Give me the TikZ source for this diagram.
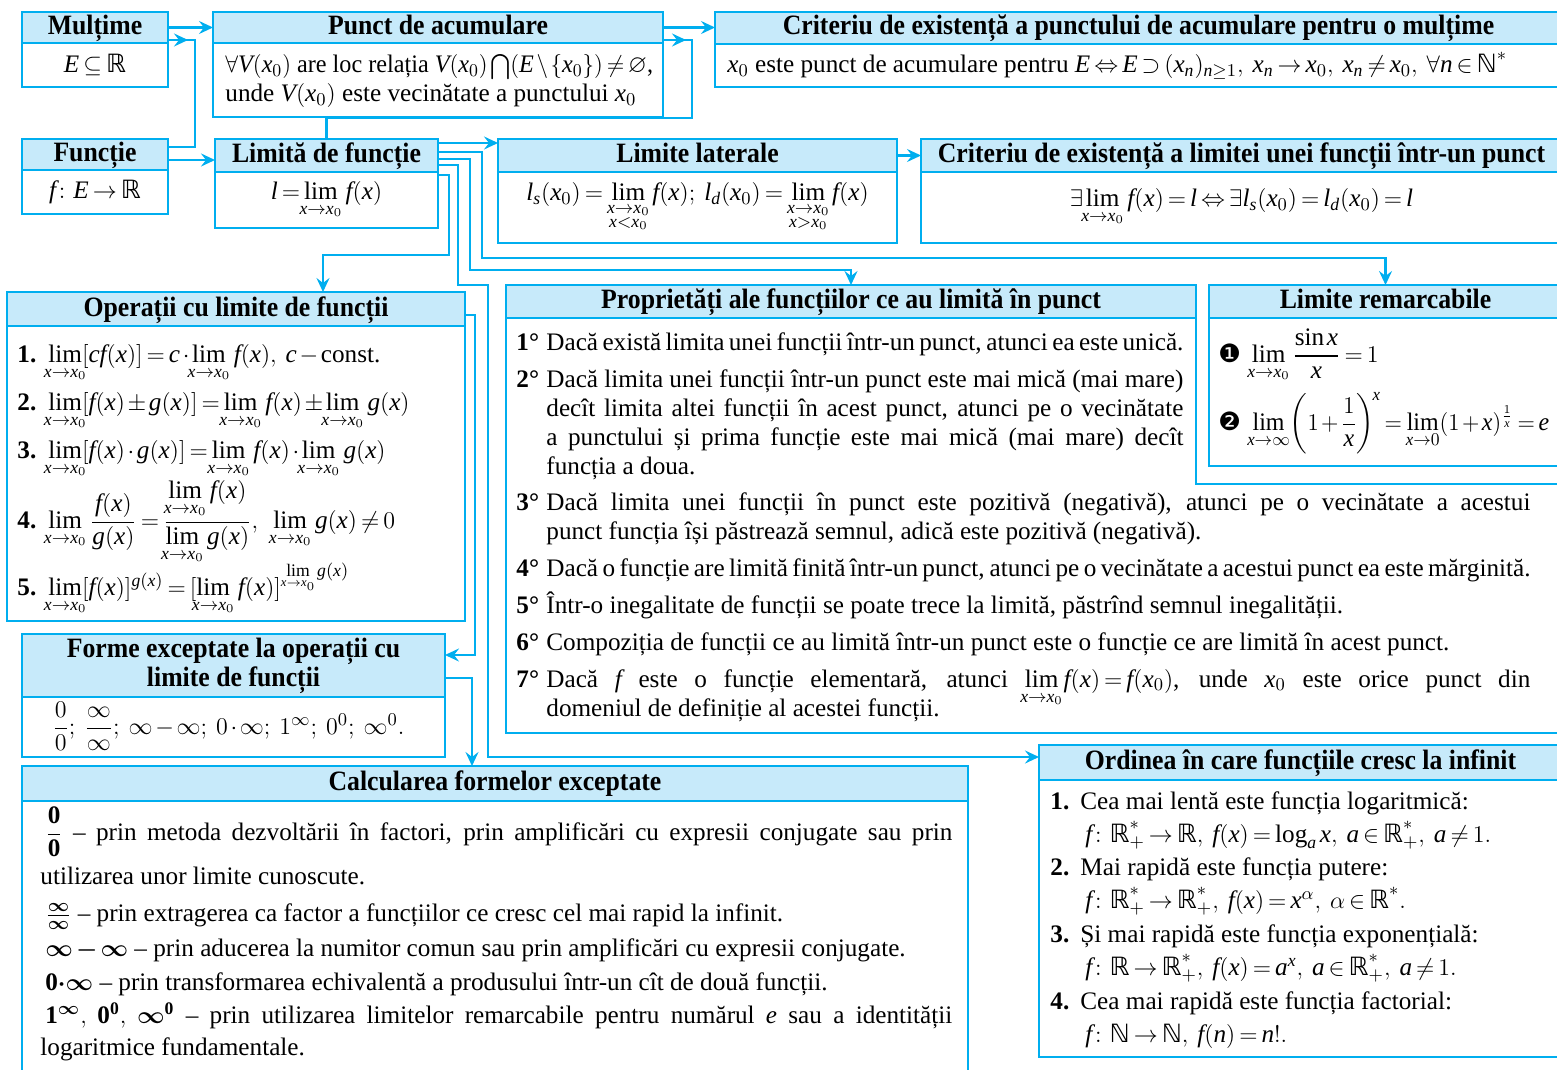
\documentclass[tikz,border=0pt]{standalone}
\usepackage{amsmath,amssymb}
\usepackage{graphicx}
\usepackage{fontspec}
\setmainfont{Liberation Serif}
\newfontfamily\hdfam{Liberation Serif}[FakeStretch=0.92]
\newfontfamily\dingfont{DejaVu Sans}
\makeatletter
\DeclareSymbolFont{itletters}{TU}{\rmdefault}{m}{it}
\count@=`A
\loop
  \mathcode\count@=\numexpr"7000+\symitletters*"100+\count@\relax
  \advance\count@ by 1
\ifnum\count@<`[ \repeat
\count@=`a
\loop
  \mathcode\count@=\numexpr"7000+\symitletters*"100+\count@\relax
  \advance\count@ by 1
\ifnum\count@<`\{ \repeat
\makeatother
\thinmuskip=2mu
\medmuskip=2mu
\thickmuskip=3mu
\newcommand\RR{\mathord{\text{\dingfont ℝ}}}
\newcommand\NN{\mathord{\text{\dingfont ℕ}}}
\newcommand\limbr[1]{\lim\limits_{\hbox to 0pt{\hss$\scriptstyle #1$\hss}}}
\newcommand\limsub[1]{\limbr{#1}\mkern4mu}
\usetikzlibrary{arrows.meta,decorations.markings}
\definecolor{cyanline}{RGB}{0,174,239}
\definecolor{hdrfill}{RGB}{199,234,250}
\newcommand\bodyfont{\fontsize{12.6}{14.5}\selectfont}
\newcommand\hdfont{\hdfam\fontsize{14}{14.5}\selectfont\bfseries}
\tikzset{
  hdr/.style={draw=cyanline, fill=hdrfill, line width=1.4pt, inner sep=0pt, outer sep=0pt, anchor=north west, font=\hdfont, text height=10pt, text depth=3pt},
  hdrtwo/.style={draw=cyanline, fill=hdrfill, line width=1.4pt, inner sep=0pt, outer sep=0pt, anchor=north west, font=\hdfont, align=center},
  bodybox/.style={draw=cyanline, fill=white, line width=1.4pt, inner sep=0pt, outer sep=0pt, anchor=north west, font=\bodyfont},
  txt/.style={inner sep=0pt, anchor=base west, font=\bodyfont},
  link/.style={draw=cyanline, line width=1.4pt},
  arr/.style={link, -{Stealth[length=7pt,width=6.5pt,inset=2.5pt]}},
  midarrow/.style={link, postaction={decorate}, decoration={markings, mark=at position #1 with {\arrow{Stealth[length=7pt,width=6.5pt,inset=2.5pt]}}}}
}
\begin{document}
\begin{tikzpicture}[x=0.5pt, y=-0.5pt]
    \useasboundingbox (0,0) rectangle (1557,1070);

    % Multime, punct de acumulare
    \node[hdr, minimum width=73pt, minimum height=15.5pt] (mulh) at (22,12) {Mulțime};
    \node[bodybox, minimum width=73pt, minimum height=22pt] (mulb) at (mulh.south west) {$E\subseteq\RR$};
    \node[hdr, minimum width=225pt, minimum height=15.5pt] (punh) at (213,12) {Punct de acumulare};
    \node[bodybox, minimum width=225pt, minimum height=37pt] (punb) at (punh.south west) {};
    \node[txt] (pun1) at (225,73) {\scalebox{0.96}[1]{$\forall V(x_0)$ are loc relația $V(x_0)\bigcap(E\setminus\{x_0\})\neq\varnothing$,}};
    \node[txt] (pun2) at (225,102) {unde $V(x_0)$\ este vecinătate a punctului\ $x_0$};
    \node[hdr, minimum width=423.5pt, minimum height=16pt] (crph) at (715,12) {Criteriu de existență a punctului de acumulare pentru o mulțime};
    \node[bodybox, minimum width=423.5pt, minimum height=21.5pt] (crpb) at (crph.south west) {};
    \node[txt] (crp1) at (727,73) {$x_0$ este punct de acumulare pentru\ $E\Leftrightarrow E\supset(x_n)_{n\geq1},\ x_n\to x_0,\ x_n\neq x_0,\ \forall n\in\NN^*$};

    % Functie, limita
    \node[hdr, minimum width=73pt, minimum height=15.5pt] (funh) at (22,139) {Funcție};
    \node[bodybox, minimum width=73pt, minimum height=22pt] (funb) at (funh.south west) {$f\colon E\to\RR$};
    \node[hdr, minimum width=111.5pt, minimum height=16.5pt] (limh) at (215,139) {Limită de funcție};
    \node[bodybox, minimum width=111.5pt, minimum height=28pt] (limb) at (limh.south west) {$l=\limsub{x\to x_0}f(x)$};
    \node[hdr, minimum width=199.5pt, minimum height=16.5pt] (lath) at (498,139) {Limite laterale};
    \node[bodybox, minimum width=199.5pt, minimum height=35.5pt] (latb) at (lath.south west)
        {$l_s(x_0)=\lim\limits_{\substack{x\to x_0\\ x<x_0}}f(x);\ l_d(x_0)=\lim\limits_{\substack{x\to x_0\\ x>x_0}}f(x)$};
    \node[hdr, minimum width=320.5pt, minimum height=16.5pt] (crlh) at (921,139) {Criteriu de existență a limitei unei funcții într-un punct};
    \node[bodybox, minimum width=320.5pt, minimum height=35.5pt] (crlb) at (crlh.south west)
        {$\exists\limsub{x\to x_0}f(x)=l\Leftrightarrow\exists l_s(x_0)=l_d(x_0)=l$};

    % Operatii cu limite
    \node[hdr, minimum width=229pt, minimum height=17pt] (opeh) at (7,292) {Operații cu limite de funcții};
    \node[bodybox, minimum width=229pt, minimum height=147.5pt] (opeb) at (opeh.south west) {};
    \node[txt] (ope1) at (17,362) {\makebox[15.5pt][l]{\textbf{1.}}$\limbr{x\to x_0}[cf(x)]=c\cdot\limsub{x\to x_0}f(x),\ c-\text{const.}$};
    \node[txt] (ope2) at (17,410) {\makebox[15.5pt][l]{\textbf{2.}}$\limbr{x\to x_0}[f(x)\pm g(x)]=\limsub{x\to x_0}f(x)\pm\limsub{x\to x_0}g(x)$};
    \node[txt] (ope3) at (17,458) {\makebox[15.5pt][l]{\textbf{3.}}$\limbr{x\to x_0}[f(x)\cdot g(x)]=\limsub{x\to x_0}f(x)\cdot\limsub{x\to x_0}g(x)$};
    \node[txt] (ope4) at (17,528) {\makebox[15.5pt][l]{\textbf{4.}}$\limsub{x\to x_0}\dfrac{f(x)}{g(x)}=\dfrac{\limsub{x\to x_0}f(x)}{\limsub{x\to x_0}g(x)},\ \ \limsub{x\to x_0}g(x)\neq0$};
    \node[txt] (ope5) at (17,595) {\makebox[15.5pt][l]{\textbf{5.}}$\limbr{x\to x_0}[f(x)]^{g(x)}=[\limsub{x\to x_0}f(x)]^{\lim\limits_{x\to x_0}g(x)}$};

    % Proprietati
    \draw[link, fill=white] (506,318) -- (1196,318) -- (1196,484) -- (1562,484) -- (1562,733) -- (506,733) -- cycle;
    \node[hdr, minimum width=345pt, minimum height=16.5pt] (proh) at (506,285) {Proprietăți ale funcțiilor ce au limită în punct};
    \node[txt] (pro1) at (516,350) {\makebox[15pt][l]{\textbf{1°}}\makebox[318.5pt][s]{Dacă există limita unei funcții într-un punct, atunci ea este unică.}};
    \node[txt] (pro2) at (516,387) {\makebox[15pt][l]{\textbf{2°}}\makebox[318.5pt][s]{Dacă limita unei funcții într-un punct este mai mică (mai mare)}};
    \node[txt] (pro2b) at (546,416) {\makebox[318.5pt][s]{decît limita altei funcții în acest punct, atunci pe o vecinătate}};
    \node[txt] (pro2c) at (546,445) {\makebox[318.5pt][s]{a punctului și prima funcție este mai mică (mai mare) decît}};
    \node[txt] (pro2d) at (546,474) {funcția a doua.};
    \node[txt] (pro3) at (516,510) {\makebox[15pt][l]{\textbf{3°}}\makebox[492pt][s]{Dacă limita unei funcții în punct este pozitivă (negativă), atunci pe o vecinătate a acestui}};
    \node[txt] (pro3b) at (546,539) {punct funcția își păstrează semnul, adică este pozitivă (negativă).};
    \node[txt] (pro4) at (516,576) {\makebox[15pt][l]{\textbf{4°}}\makebox[492pt][s]{Dacă o funcție are limită finită într-un punct, atunci pe o vecinătate a acestui punct ea este mărginită.}};
    \node[txt] (pro5) at (516,613) {\makebox[15pt][l]{\textbf{5°}}Într-o inegalitate de funcții se poate trece la limită, păstrînd semnul inegalității.};
    \node[txt] (pro6) at (516,650) {\makebox[15pt][l]{\textbf{6°}}Compoziția de funcții ce au limită într-un punct este o funcție ce are limită în acest punct.};
    \node[txt] (pro7) at (516,687) {\makebox[15pt][l]{\textbf{7°}}\makebox[492pt][s]{Dacă $f$ este o funcție elementară, atunci $\smash[b]{\limsub{x\to x_0}}f(x)=f(x_0)$, unde $x_0$ este orice punct din}};
    \node[txt] (pro7b) at (546,716) {domeniul de definiție al acestei funcții.};

    % Limite remarcabile
    \node[hdr, minimum width=176.5pt, minimum height=16.5pt] (remh) at (1209,285) {Limite remarcabile};
    \node[bodybox, minimum width=176.5pt, minimum height=74pt] (remb) at (remh.south west) {};
    \node[txt] (rem1) at (1218,362) {{\dingfont ❶}\ $\lim\limits_{x\to x_0}\dfrac{\sin x}{x}=1$};
    \node[txt] (rem2) at (1218,430) {{\dingfont ❷}\ \scalebox{0.95}[1]{$\lim\limits_{x\to\infty}\!\left(1+\dfrac{1}{x}\right)^{\!x}=\lim\limits_{x\to0}(1+x)^{\frac{1}{x}}=e$}};

    % Forme exceptate
    \node[hdrtwo, minimum width=211.5pt, minimum height=31.5pt] (forh) at (22,634) {Forme exceptate la operații cu\\limite de funcții};
    \node[bodybox, minimum width=211.5pt, minimum height=30pt] (forb) at (forh.south west) {};
    \node[txt] (for1) at (52,734) {$\dfrac{0}{0};\ \dfrac{\infty}{\infty};\ \infty-\infty;\ 0\cdot\infty;\ 1^{\infty};\ 0^{0};\ \infty^{0}.$};

    % Calcularea formelor exceptate
    \node[hdr, minimum width=473pt, minimum height=17.5pt] (calh) at (22,766) {Calcularea formelor exceptate};
    \node[bodybox, minimum width=473pt, minimum height=140pt] (calb) at (calh.south west) {};
    \node[txt] (cal1) at (45,840) {\makebox[453.5pt][s]{$\dfrac{\mathbf{0}}{\mathbf{0}}$ – prin metoda dezvoltării în factori, prin amplificări cu expresii conjugate sau prin}};
    \node[txt] (cal1b) at (40,884) {utilizarea unor limite cunoscute.};
    \node[txt] (cal2) at (45,921) {$\frac{\boldsymbol{\infty}}{\boldsymbol{\infty}}$ – prin extragerea ca factor a funcțiilor ce cresc cel mai rapid la infinit.};
    \node[txt] (cal3) at (45,956) {$\boldsymbol{\infty-\infty}$ – prin aducerea la numitor comun sau prin amplificări cu expresii conjugate.};
    \node[txt] (cal4) at (45,990) {$\mathbf{0}\boldsymbol{\cdot\infty}$ – prin transformarea echivalentă a produsului într-un cît de două funcții.};
    \node[txt] (cal5) at (45,1023) {\makebox[453.5pt][s]{$\mathbf{1}^{\boldsymbol{\infty}},\mkern6mu\mathbf{0}^{\mathbf{0}},\mkern6mu\boldsymbol{\infty}^{\mathbf{0}}$ – prin utilizarea limitelor remarcabile pentru numărul $e$ sau a identității}};
    \node[txt] (cal5b) at (40,1055) {logaritmice fundamentale.};

    % Ordinea
    \node[hdr, minimum width=261.5pt, minimum height=17.5pt] (ordh) at (1039,745) {Ordinea în care funcțiile cresc la infinit};
    \node[bodybox, minimum width=261.5pt, minimum height=138.5pt] (ordb) at (ordh.south west) {};
    \node[txt] (ord1) at (1050,809) {\makebox[15pt][l]{\textbf{1.}}Cea mai lentă este funcția logaritmică:};
    \node[txt] (ord1b) at (1085,842) {$f\colon\RR_+^*\to\RR,\ f(x)=\log_a x,\ a\in\RR_+^*,\ a\neq1.$};
    \node[txt] (ord2) at (1050,875) {\makebox[15pt][l]{\textbf{2.}}Mai rapidă este funcția putere:};
    \node[txt] (ord2b) at (1085,908) {$f\colon\RR_+^*\to\RR_+^*,\ f(x)=x^{\alpha},\ \alpha\in\RR^*.$};
    \node[txt] (ord3) at (1050,942) {\makebox[15pt][l]{\textbf{3.}}Și mai rapidă este funcția exponențială:};
    \node[txt] (ord3b) at (1085,975) {$f\colon\RR\to\RR_+^*,\ f(x)=a^{x},\ a\in\RR_+^*,\ a\neq1.$};
    \node[txt] (ord4) at (1050,1009) {\makebox[15pt][l]{\textbf{4.}}Cea mai rapidă este funcția factorial:};
    \node[txt] (ord4b) at (1085,1042) {$f\colon\NN\to\NN,\ f(n)=n!.$};

    % Sageti
    \draw[arr] (mulh.east) -- (punh.west);
    \draw[midarrow=10pt] (mulh.east |- 0,40) -- (195,40) |- (funh.east |- 0,147);
    \draw[arr] (punh.east) -- (punh.east -| crph.west);
    \draw[midarrow=11.5pt] (punh.east |- 0,40) -- (692,40) |- (limh.north |- 0,118) -- (limh.north);
    \draw[arr] (funh.east |- 0,160) -- (limh.west |- 0,160);
    \draw[arr] (limh.east |- 0,143) -- (lath.west |- 0,143);
    \draw[arr] (limh.east |- 0,152) -| (482,258) -| (remh.north);
    \draw[arr] (limh.east |- 0,159) -| (470,270) -| (proh.north);
    \draw[arr] (limh.east |- 0,165) -| (458,285) -| (488,757) -- (ordh.west |- 0,757);
    \draw[arr] (limb.east |- 0,175) -| (449,255) -| (opeh.north -| 323,0);
    \draw[arr] (lath) -- (crlh);
    \draw[arr] (opeh.east |- 0,315) -| (475,655) -- (forh.east |- 0,655);
    \draw[arr] (forh.east |- 0,678) -| (calh.north -| 472,0);
\end{tikzpicture}
\end{document}
